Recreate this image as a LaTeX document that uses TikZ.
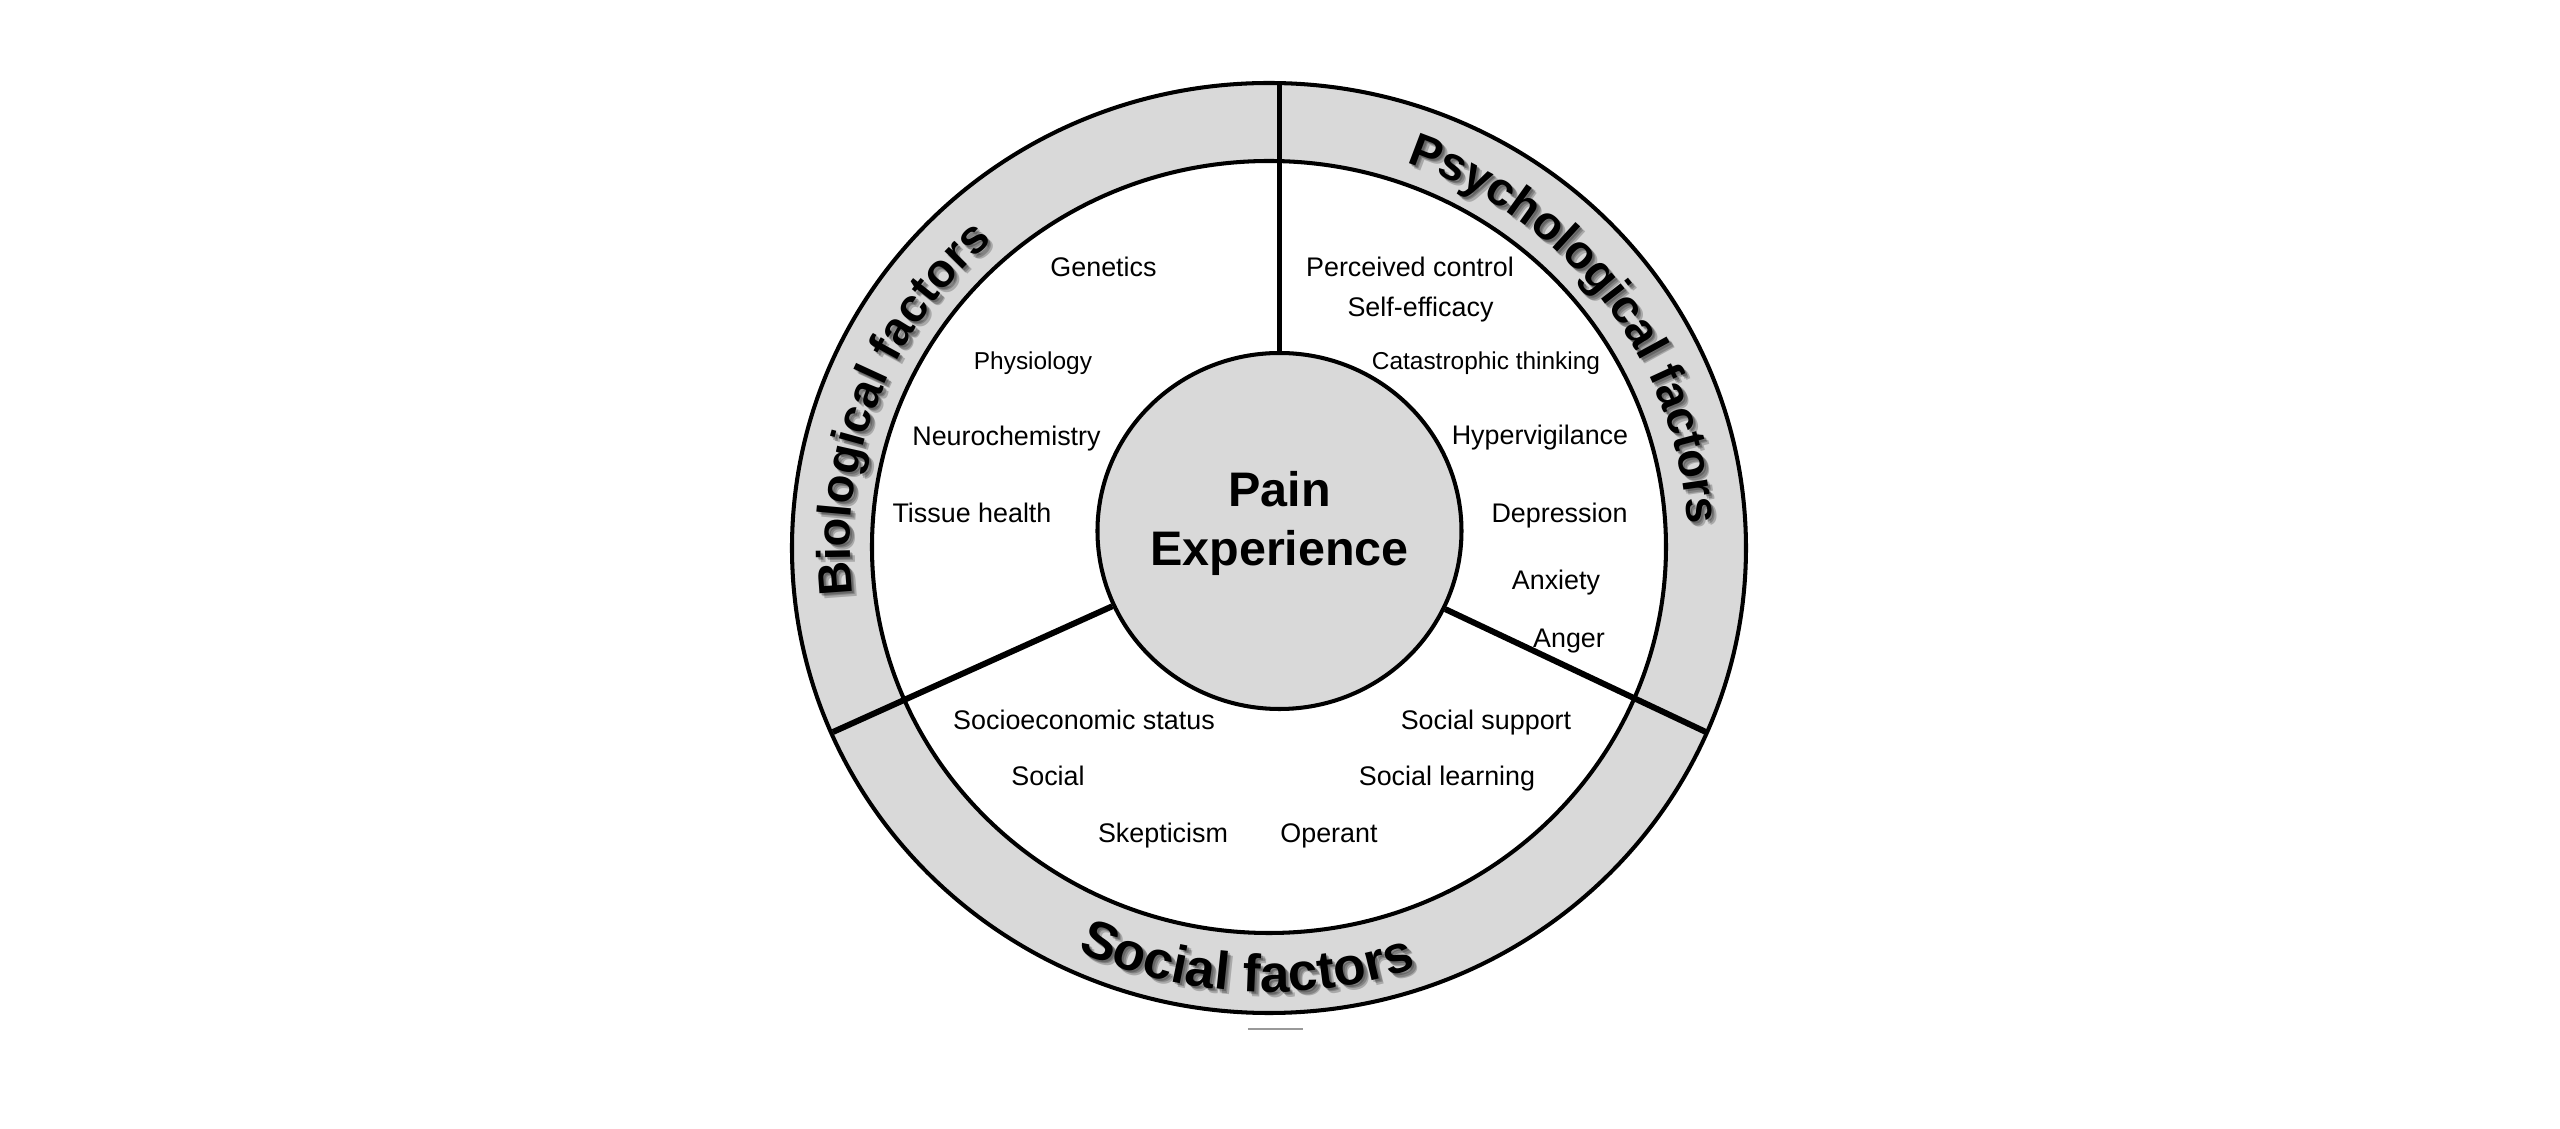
\documentclass[tikz,border=0pt]{standalone}
\usepackage{fontspec}
\setmainfont{Liberation Sans}
\usepackage{xcolor}
\definecolor{ringgray}{HTML}{D9D9D9}
\usetikzlibrary{shapes.geometric, decorations.text}
\newcommand{\itemfont}{\fontsize{7.65}{9}\selectfont}
\newcommand{\smallitemfont}{\fontsize{6.95}{8}\selectfont}
\newcommand{\titlefont}{\fontsize{13.8}{16.8}\selectfont\bfseries}
\newcommand{\ringfont}{\fontsize{13.4}{16}\selectfont\bfseries}
\newcommand{\bigringfont}{\fontsize{15.1}{18}\selectfont\bfseries}
\tikzstyle{item} = [anchor=base, inner sep=0pt, font=\itemfont]
\tikzstyle{smallitem} = [anchor=base, inner sep=0pt, font=\smallitemfont]
\tikzstyle{disc} = [draw, ellipse, inner sep=0pt, line width=1.15pt]
\tikzstyle{divider} = [line width=1.7pt]
\tikzstyle{ringtext} = [decorate, decoration={text along path, text align=center}]

\begin{document}
\begin{tikzpicture}
	\useasboundingbox (-12.72,-5.81) rectangle (12.88,5.48);
	%rings
	\node[disc, minimum width=9.54cm, minimum height=9.3cm, fill=ringgray] (ring) at (-0.03,0) {};
	\node[disc, minimum width=7.94cm, minimum height=7.72cm, fill=white] (inner) at (-0.03,0.01) {};
	\draw[black!40, line width=0.8pt] (-0.24,-4.81) -- (0.31,-4.81);
	
	%centre
	\node[disc, minimum width=3.64cm, minimum height=3.56cm, fill=ringgray] (pain) at (0.075,0.17) {};
	\node[align=center, font=\titlefont, inner sep=0pt] (title) at (0.075,0.25) {Pain\\Experience};
	\coordinate (psyEnd) at (0.075,4.65);
	\coordinate (bioEnd) at (-4.39,-1.84);
	\coordinate (socEnd) at (4.36,-1.85);
	\draw[divider] (pain.north) -- (psyEnd);
	\draw[divider] (pain) -- (bioEnd);
	\draw[divider] (pain) -- (socEnd);
	
	%ring labels
	\begin{scope}[shift={(-0.03,0)}]
		\begin{scope}[opacity=0.22]
			\foreach \s in {0.02,0.035,0.05} {
				\path[ringtext, shift={(\s,-\s)}, decoration={text={|\ringfont|Biological factors}}] (199:4.19cm and 4.08cm) arc[start angle=199, end angle=119, x radius=4.19cm, y radius=4.08cm];
				\path[ringtext, shift={(\s,-\s)}, decoration={text={|\ringfont|Psychological factors}}] (77:4.19cm and 4.08cm) arc[start angle=77, end angle=-3, x radius=4.19cm, y radius=4.08cm];
				\path[ringtext, shift={(\s,-\s)}, decoration={text={|\bigringfont|Social factors}}] (227:4.55cm and 4.44cm) arc[start angle=227, end angle=307, x radius=4.55cm, y radius=4.44cm];
			}
		\end{scope}
		\path[ringtext, decoration={text={|\ringfont|Biological factors}}] (199:4.19cm and 4.08cm) arc[start angle=199, end angle=119, x radius=4.19cm, y radius=4.08cm];
		\path[ringtext, decoration={text={|\ringfont|Psychological factors}}] (77:4.19cm and 4.08cm) arc[start angle=77, end angle=-3, x radius=4.19cm, y radius=4.08cm];
		\path[ringtext, decoration={text={|\bigringfont|Social factors}}] (227:4.55cm and 4.44cm) arc[start angle=227, end angle=307, x radius=4.55cm, y radius=4.44cm];
	\end{scope}
	
	%biological
	\node[item] (genetics) at (-1.685,2.71) {Genetics};
	\node[smallitem] (physiology) at (-2.39,1.78) {Physiology};
	\node[item] (neurochem) at (-2.655,1.02) {Neurochemistry};
	\node[item] (tissue) at (-3.00,0.25) {Tissue health};
	
	%psychological
	\node[item] (control) at (1.38,2.71) {Perceived control};
	\node[item] (efficacy) at (1.485,2.31) {Self-efficacy};
	\node[smallitem] (catastrophic) at (2.14,1.78) {Catastrophic thinking};
	\node[item] (hypervigilance) at (2.68,1.03) {Hypervigilance};
	\node[item] (depression) at (2.875,0.25) {Depression};
	\node[item] (anxiety) at (2.84,-0.42) {Anxiety};
	\node[item] (anger) at (2.97,-1.00) {Anger};
	
	%social
	\node[item] (status) at (-1.88,-1.82) {Socioeconomic status};
	\node[item] (social) at (-2.24,-2.38) {Social};
	\node[item] (skepticism) at (-1.09,-2.95) {Skepticism};
	\node[item] (operant) at (0.57,-2.95) {Operant};
	\node[item] (support) at (2.14,-1.82) {Social support};
	\node[item] (learning) at (1.75,-2.38) {Social learning};
\end{tikzpicture}
\end{document}
